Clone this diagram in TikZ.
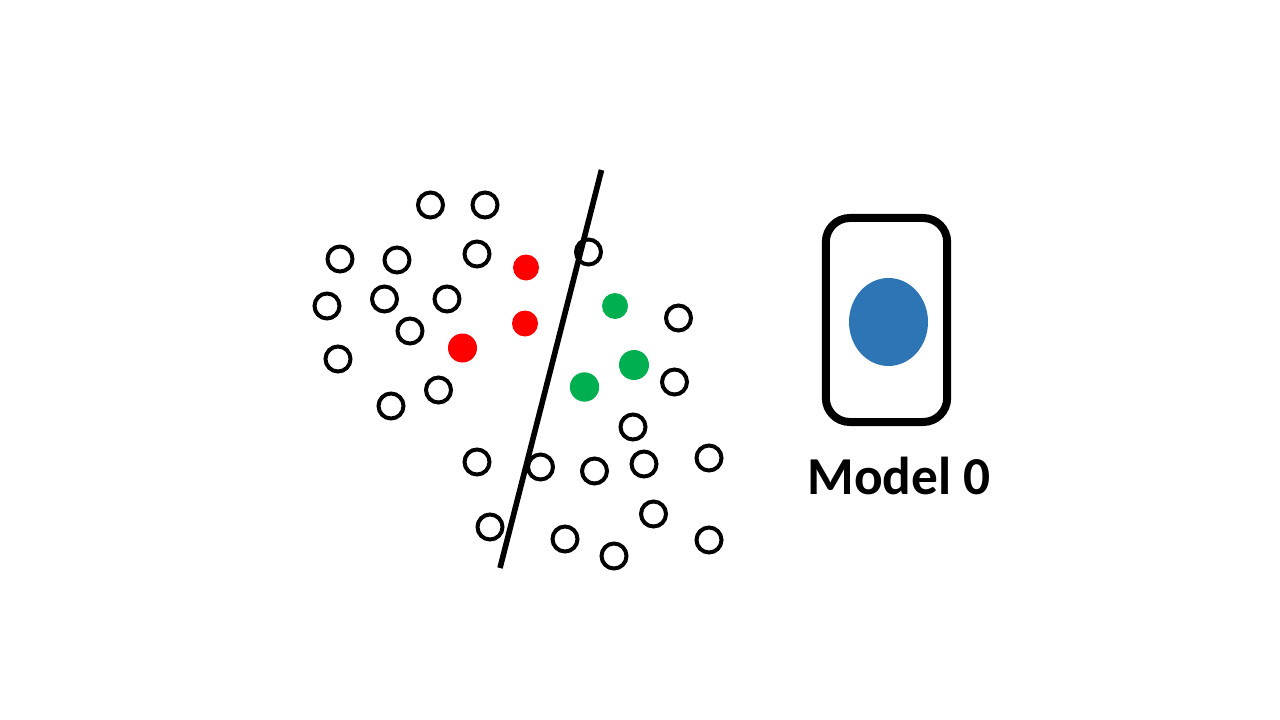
\documentclass[tikz,border=0pt]{standalone}
\usepackage{fontspec}
\usetikzlibrary{shapes.geometric}
\setmainfont{Carlito}
\definecolor{dgreen}{HTML}{00B050}
\definecolor{dblue}{HTML}{2E75B6}
\tikzset{
 dot/.style={circle,draw=black,line width=3pt,fill=white,minimum size=18.75pt,inner sep=0pt},
 redb/.style={circle,fill=red,minimum size=#1,inner sep=0pt},
 greenb/.style={circle,fill=dgreen,minimum size=#1,inner sep=0pt},
}
\begin{document}
\begin{tikzpicture}[x=0.75pt,y=-0.75pt]
\useasboundingbox (0,0) rectangle (1280,720);
\foreach \n/\x/\y in {a/430.5/205,b/485/205,c/340/259,d/397/260,e/477/254,f/327/306,g/384.5/299,h/447/299,i/410/331,j/338/359,k/391/406,l/438.5/390,m/678.5/318,n/674.5/382,o/633/427,p/477/462,q/540.5/467,r/594.5/471,s/644/464,t/709/458,u/490/527,v/565/539,w/614/556,y/653.5/514,z/709/540}
  \node[dot] (\n) at (\x,\y) {};
\coordinate (t1) at (601.5,170);
\coordinate (t2) at (500,568);
\draw[line width=4.2pt] (t1) -- (t2);
\node[redb=19.5pt] (r1) at (526,267.5) {};
\node[redb=19.5pt] (r2) at (525,323.5) {};
\node[redb=21.75pt] (r3) at (462.5,348) {};
\node[greenb=19.5pt] (g1) at (615,306) {};
\node[greenb=22.5pt] (g2) at (634,365) {};
\node[greenb=22pt] (g3) at (584.5,387) {};
\node[circle,draw=black,line width=3pt,minimum size=18.75pt,inner sep=0pt] (x) at (588.5,252) {};
\node[draw=black,line width=6pt,rounded corners=18pt,minimum width=91pt,minimum height=153pt,inner sep=0pt] (phone) at (886.5,320) {};
\node[ellipse,fill=dblue,minimum width=59.25pt,minimum height=66pt,inner sep=0pt] (b) at (888.5,322) {};
\node[font=\bfseries,text=black] (lab) at (899,476) {\fontsize{40pt}{44pt}\selectfont Model 0};
\end{tikzpicture}
\end{document}
